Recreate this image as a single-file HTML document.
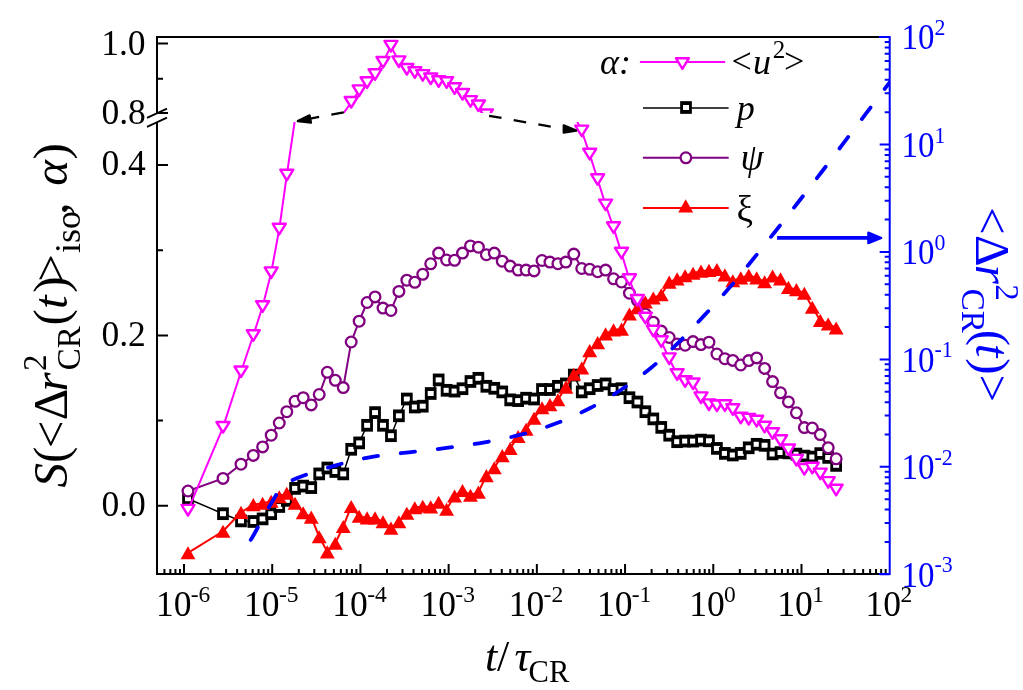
<!DOCTYPE html><html><head><meta charset="utf-8"><style>html,body{margin:0;padding:0;background:#fff;overflow:hidden}svg{display:block;will-change:transform}text{font-family:"Liberation Serif",serif}</style></head><body>
<svg width="1023" height="690" viewBox="0 0 1023 690">
<rect width="1023" height="690" fill="#fff"/>
<defs><clipPath id="cl"><rect x="157" y="122" width="732.7" height="452"/></clipPath>
<clipPath id="cu"><rect x="157" y="37" width="732.7" height="76"/></clipPath></defs>
<path d="M157,36 V113 M157,122 V575 M156,574 H879 M156,37 H879 M157,43.5 H168 M157,113 H168 M157,165 H168 M157,335.5 H168 M157,505.7 H168 M157,78.8 H163 M157,250.25 H163 M157,420.5 H163 M164.43,574 V569 M170.34,574 V569 M175.45,574 V569 M179.96,574 V569 M184,574 V564 M210.55,574 V569 M226.09,574 V569 M237.11,574 V569 M245.66,574 V569 M252.64,574 V569 M258.55,574 V569 M263.66,574 V569 M268.18,574 V569 M272.21,574 V564 M298.77,574 V569 M314.3,574 V569 M325.32,574 V569 M333.87,574 V569 M340.86,574 V569 M346.76,574 V569 M351.88,574 V569 M356.39,574 V569 M360.43,574 V564 M386.98,574 V569 M402.51,574 V569 M413.53,574 V569 M422.08,574 V569 M429.07,574 V569 M434.97,574 V569 M440.09,574 V569 M444.6,574 V569 M448.64,574 V564 M475.19,574 V569 M490.73,574 V569 M501.75,574 V569 M510.3,574 V569 M517.28,574 V569 M523.19,574 V569 M528.3,574 V569 M532.81,574 V569 M536.85,574 V564 M563.4,574 V569 M578.94,574 V569 M589.96,574 V569 M598.51,574 V569 M605.49,574 V569 M611.4,574 V569 M616.51,574 V569 M621.03,574 V569 M625.06,574 V564 M651.62,574 V569 M667.15,574 V569 M678.17,574 V569 M686.72,574 V569 M693.71,574 V569 M699.61,574 V569 M704.73,574 V569 M709.24,574 V569 M713.28,574 V564 M739.83,574 V569 M755.36,574 V569 M766.38,574 V569 M774.93,574 V569 M781.92,574 V569 M787.82,574 V569 M792.94,574 V569 M797.45,574 V569 M801.49,574 V564 M828.04,574 V569 M843.58,574 V569 M854.6,574 V569 M863.15,574 V569 M870.13,574 V569 M876.04,574 V569 M881.15,574 V569 M885.66,574 V569" stroke="#000" stroke-width="2" fill="none"/>
<path d="M147,117.9 L167,108.6 M147,126.9 L167,117.6" stroke="#000" stroke-width="1.8" fill="none"/>
<path d="M889.7,36 V575 M879,37 H890.7 M879,574 H890.7 M889.7,574.3 H879.7 M889.7,541.95 H884.7 M889.7,523.03 H884.7 M889.7,509.61 H884.7 M889.7,499.2 H884.7 M889.7,490.69 H884.7 M889.7,483.49 H884.7 M889.7,477.26 H884.7 M889.7,471.77 H884.7 M889.7,466.85 H879.7 M889.7,434.5 H884.7 M889.7,415.58 H884.7 M889.7,402.16 H884.7 M889.7,391.75 H884.7 M889.7,383.24 H884.7 M889.7,376.04 H884.7 M889.7,369.81 H884.7 M889.7,364.32 H884.7 M889.7,359.4 H879.7 M889.7,327.05 H884.7 M889.7,308.13 H884.7 M889.7,294.71 H884.7 M889.7,284.3 H884.7 M889.7,275.79 H884.7 M889.7,268.59 H884.7 M889.7,262.36 H884.7 M889.7,256.87 H884.7 M889.7,251.95 H879.7 M889.7,219.6 H884.7 M889.7,200.68 H884.7 M889.7,187.26 H884.7 M889.7,176.85 H884.7 M889.7,168.34 H884.7 M889.7,161.14 H884.7 M889.7,154.91 H884.7 M889.7,149.42 H884.7 M889.7,144.5 H879.7 M889.7,112.15 H884.7 M889.7,93.23 H884.7 M889.7,79.81 H884.7 M889.7,69.4 H884.7 M889.7,60.89 H884.7 M889.7,53.69 H884.7 M889.7,47.46 H884.7 M889.7,41.97 H884.7" stroke="#00f" stroke-width="2" fill="none"/>
<text x="101.21" y="54.8" font-size="35.5" fill="#000">1.0</text>
<text x="101.48" y="123.6" font-size="35.5" fill="#000">0.8</text>
<text x="101.48" y="174.5" font-size="35.5" fill="#000">0.4</text>
<text x="101.48" y="346.4" font-size="35.5" fill="#000">0.2</text>
<text x="101.48" y="516.4" font-size="35.5" fill="#000">0.0</text>
<text x="155.88" y="615.8" font-size="35.5" fill="#000">10</text>
<text x="190.72" y="601.9" font-size="23.5" fill="#000">-6</text>
<text x="244.09" y="615.8" font-size="35.5" fill="#000">10</text>
<text x="278.94" y="601.9" font-size="23.5" fill="#000">-5</text>
<text x="332.31" y="615.8" font-size="35.5" fill="#000">10</text>
<text x="367.15" y="601.9" font-size="23.5" fill="#000">-4</text>
<text x="420.52" y="615.8" font-size="35.5" fill="#000">10</text>
<text x="455.36" y="601.9" font-size="23.5" fill="#000">-3</text>
<text x="508.73" y="615.8" font-size="35.5" fill="#000">10</text>
<text x="543.57" y="601.9" font-size="23.5" fill="#000">-2</text>
<text x="596.94" y="615.8" font-size="35.5" fill="#000">10</text>
<text x="631.78" y="601.9" font-size="23.5" fill="#000">-1</text>
<text x="689.15" y="615.8" font-size="35.5" fill="#000">10</text>
<text x="723.99" y="601.9" font-size="23.5" fill="#000">0</text>
<text x="777.37" y="615.8" font-size="35.5" fill="#000">10</text>
<text x="812.21" y="601.9" font-size="23.5" fill="#000">1</text>
<text x="865.58" y="615.8" font-size="35.5" fill="#000">10</text>
<text x="900.42" y="601.9" font-size="23.5" fill="#000">2</text>
<g transform="translate(904.5,0) scale(0.93,1)">
<text x="-3.19" y="586.7" font-size="35.5" fill="#00f">10</text>
<text x="32.35" y="572.4" font-size="23.5" fill="#00f">-3</text>
</g>
<g transform="translate(904.5,0) scale(0.93,1)">
<text x="-3.19" y="479.25" font-size="35.5" fill="#00f">10</text>
<text x="32.35" y="464.95" font-size="23.5" fill="#00f">-2</text>
</g>
<g transform="translate(904.5,0) scale(0.93,1)">
<text x="-3.19" y="371.8" font-size="35.5" fill="#00f">10</text>
<text x="32.35" y="357.5" font-size="23.5" fill="#00f">-1</text>
</g>
<g transform="translate(904.5,0) scale(0.93,1)">
<text x="-3.19" y="264.35" font-size="35.5" fill="#00f">10</text>
<text x="32.35" y="250.05" font-size="23.5" fill="#00f">0</text>
</g>
<g transform="translate(904.5,0) scale(0.93,1)">
<text x="-3.19" y="156.9" font-size="35.5" fill="#00f">10</text>
<text x="32.35" y="142.6" font-size="23.5" fill="#00f">1</text>
</g>
<g transform="translate(904.5,0) scale(0.93,1)">
<text x="-3.19" y="49.45" font-size="35.5" fill="#00f">10</text>
<text x="32.35" y="35.15" font-size="23.5" fill="#00f">2</text>
</g>
<g clip-path="url(#cl)">
<path d="M188,498.7 L223,513.7 L241,520.9 L253.3,521.5 L262.6,518.9 L271.2,513.7 L279.25,506.5 L286.8,500.4 L295.05,488.4 L303.2,486.1 L311.25,487.6 L319.2,473.9 L327.35,468 L335.3,471.5 L343.25,473.9 L351.2,449.3 L359.15,442.9 L367.1,425.3 L375.05,412.6 L383,425.3 L390.95,435.7 L398.9,415.8 L406.85,399 L414.8,407 L422.75,406.2 L430.7,393.5 L438.65,379.9 L446.6,390.3 L454.55,391.1 L462.5,388.7 L470.45,381.5 L478.4,378.3 L486.35,386.3 L494.3,388.3 L502.25,391.9 L510.2,399.8 L518.15,400.6 L526.1,398.2 L534.05,399 L542,389.5 L549.95,389.5 L557.9,386.3 L565.85,383.9 L573.8,375.1 L581.75,391.9 L589.7,388.7 L597.65,385.5 L605.6,383.9 L613.55,389.5 L621.5,388.7 L629.45,397.7 L637.4,402 L645.35,411.7 L653.3,418.9 L661.25,427.4 L669.2,435.2 L677.15,441.7 L685.1,441.1 L693.05,441.1 L701,440.1 L708.95,440.8 L716.9,448.4 L724.85,453.4 L732.8,455 L740.75,453.4 L748.7,447.8 L756.65,444.3 L764.6,445.3 L772.55,454 L780.5,452.5 L788.45,453 L796.4,454.2 L804.35,456 L812.3,457.1 L820.25,453.5 L828.2,457.5 L836.15,465.3" stroke="#000" stroke-width="1.5" fill="none"/>
<g><path d="M182.15,492.35h11.7v12.7h-11.7z" fill="#000"/><path d="M185,496.2h6v5h-6z" fill="#fff"/><path d="M217.15,507.35h11.7v12.7h-11.7z" fill="#000"/><path d="M220,511.2h6v5h-6z" fill="#fff"/><path d="M235.15,514.55h11.7v12.7h-11.7z" fill="#000"/><path d="M238,518.4h6v5h-6z" fill="#fff"/><path d="M247.45,515.15h11.7v12.7h-11.7z" fill="#000"/><path d="M250.3,519h6v5h-6z" fill="#fff"/><path d="M256.75,512.55h11.7v12.7h-11.7z" fill="#000"/><path d="M259.6,516.4h6v5h-6z" fill="#fff"/><path d="M265.35,507.35h11.7v12.7h-11.7z" fill="#000"/><path d="M268.2,511.2h6v5h-6z" fill="#fff"/><path d="M273.4,500.15h11.7v12.7h-11.7z" fill="#000"/><path d="M276.25,504h6v5h-6z" fill="#fff"/><path d="M280.95,494.05h11.7v12.7h-11.7z" fill="#000"/><path d="M283.8,497.9h6v5h-6z" fill="#fff"/><path d="M289.2,482.05h11.7v12.7h-11.7z" fill="#000"/><path d="M292.05,485.9h6v5h-6z" fill="#fff"/><path d="M297.35,479.75h11.7v12.7h-11.7z" fill="#000"/><path d="M300.2,483.6h6v5h-6z" fill="#fff"/><path d="M305.4,481.25h11.7v12.7h-11.7z" fill="#000"/><path d="M308.25,485.1h6v5h-6z" fill="#fff"/><path d="M313.35,467.55h11.7v12.7h-11.7z" fill="#000"/><path d="M316.2,471.4h6v5h-6z" fill="#fff"/><path d="M321.5,461.65h11.7v12.7h-11.7z" fill="#000"/><path d="M324.35,465.5h6v5h-6z" fill="#fff"/><path d="M329.45,465.15h11.7v12.7h-11.7z" fill="#000"/><path d="M332.3,469h6v5h-6z" fill="#fff"/><path d="M337.4,467.55h11.7v12.7h-11.7z" fill="#000"/><path d="M340.25,471.4h6v5h-6z" fill="#fff"/><path d="M345.35,442.95h11.7v12.7h-11.7z" fill="#000"/><path d="M348.2,446.8h6v5h-6z" fill="#fff"/><path d="M353.3,436.55h11.7v12.7h-11.7z" fill="#000"/><path d="M356.15,440.4h6v5h-6z" fill="#fff"/><path d="M361.25,418.95h11.7v12.7h-11.7z" fill="#000"/><path d="M364.1,422.8h6v5h-6z" fill="#fff"/><path d="M369.2,406.25h11.7v12.7h-11.7z" fill="#000"/><path d="M372.05,410.1h6v5h-6z" fill="#fff"/><path d="M377.15,418.95h11.7v12.7h-11.7z" fill="#000"/><path d="M380,422.8h6v5h-6z" fill="#fff"/><path d="M385.1,429.35h11.7v12.7h-11.7z" fill="#000"/><path d="M387.95,433.2h6v5h-6z" fill="#fff"/><path d="M393.05,409.45h11.7v12.7h-11.7z" fill="#000"/><path d="M395.9,413.3h6v5h-6z" fill="#fff"/><path d="M401,392.65h11.7v12.7h-11.7z" fill="#000"/><path d="M403.85,396.5h6v5h-6z" fill="#fff"/><path d="M408.95,400.65h11.7v12.7h-11.7z" fill="#000"/><path d="M411.8,404.5h6v5h-6z" fill="#fff"/><path d="M416.9,399.85h11.7v12.7h-11.7z" fill="#000"/><path d="M419.75,403.7h6v5h-6z" fill="#fff"/><path d="M424.85,387.15h11.7v12.7h-11.7z" fill="#000"/><path d="M427.7,391h6v5h-6z" fill="#fff"/><path d="M432.8,373.55h11.7v12.7h-11.7z" fill="#000"/><path d="M435.65,377.4h6v5h-6z" fill="#fff"/><path d="M440.75,383.95h11.7v12.7h-11.7z" fill="#000"/><path d="M443.6,387.8h6v5h-6z" fill="#fff"/><path d="M448.7,384.75h11.7v12.7h-11.7z" fill="#000"/><path d="M451.55,388.6h6v5h-6z" fill="#fff"/><path d="M456.65,382.35h11.7v12.7h-11.7z" fill="#000"/><path d="M459.5,386.2h6v5h-6z" fill="#fff"/><path d="M464.6,375.15h11.7v12.7h-11.7z" fill="#000"/><path d="M467.45,379h6v5h-6z" fill="#fff"/><path d="M472.55,371.95h11.7v12.7h-11.7z" fill="#000"/><path d="M475.4,375.8h6v5h-6z" fill="#fff"/><path d="M480.5,379.95h11.7v12.7h-11.7z" fill="#000"/><path d="M483.35,383.8h6v5h-6z" fill="#fff"/><path d="M488.45,381.95h11.7v12.7h-11.7z" fill="#000"/><path d="M491.3,385.8h6v5h-6z" fill="#fff"/><path d="M496.4,385.55h11.7v12.7h-11.7z" fill="#000"/><path d="M499.25,389.4h6v5h-6z" fill="#fff"/><path d="M504.35,393.45h11.7v12.7h-11.7z" fill="#000"/><path d="M507.2,397.3h6v5h-6z" fill="#fff"/><path d="M512.3,394.25h11.7v12.7h-11.7z" fill="#000"/><path d="M515.15,398.1h6v5h-6z" fill="#fff"/><path d="M520.25,391.85h11.7v12.7h-11.7z" fill="#000"/><path d="M523.1,395.7h6v5h-6z" fill="#fff"/><path d="M528.2,392.65h11.7v12.7h-11.7z" fill="#000"/><path d="M531.05,396.5h6v5h-6z" fill="#fff"/><path d="M536.15,383.15h11.7v12.7h-11.7z" fill="#000"/><path d="M539,387h6v5h-6z" fill="#fff"/><path d="M544.1,383.15h11.7v12.7h-11.7z" fill="#000"/><path d="M546.95,387h6v5h-6z" fill="#fff"/><path d="M552.05,379.95h11.7v12.7h-11.7z" fill="#000"/><path d="M554.9,383.8h6v5h-6z" fill="#fff"/><path d="M560,377.55h11.7v12.7h-11.7z" fill="#000"/><path d="M562.85,381.4h6v5h-6z" fill="#fff"/><path d="M567.95,368.75h11.7v12.7h-11.7z" fill="#000"/><path d="M570.8,372.6h6v5h-6z" fill="#fff"/><path d="M575.9,385.55h11.7v12.7h-11.7z" fill="#000"/><path d="M578.75,389.4h6v5h-6z" fill="#fff"/><path d="M583.85,382.35h11.7v12.7h-11.7z" fill="#000"/><path d="M586.7,386.2h6v5h-6z" fill="#fff"/><path d="M591.8,379.15h11.7v12.7h-11.7z" fill="#000"/><path d="M594.65,383h6v5h-6z" fill="#fff"/><path d="M599.75,377.55h11.7v12.7h-11.7z" fill="#000"/><path d="M602.6,381.4h6v5h-6z" fill="#fff"/><path d="M607.7,383.15h11.7v12.7h-11.7z" fill="#000"/><path d="M610.55,387h6v5h-6z" fill="#fff"/><path d="M615.65,382.35h11.7v12.7h-11.7z" fill="#000"/><path d="M618.5,386.2h6v5h-6z" fill="#fff"/><path d="M623.6,391.35h11.7v12.7h-11.7z" fill="#000"/><path d="M626.45,395.2h6v5h-6z" fill="#fff"/><path d="M631.55,395.65h11.7v12.7h-11.7z" fill="#000"/><path d="M634.4,399.5h6v5h-6z" fill="#fff"/><path d="M639.5,405.35h11.7v12.7h-11.7z" fill="#000"/><path d="M642.35,409.2h6v5h-6z" fill="#fff"/><path d="M647.45,412.55h11.7v12.7h-11.7z" fill="#000"/><path d="M650.3,416.4h6v5h-6z" fill="#fff"/><path d="M655.4,421.05h11.7v12.7h-11.7z" fill="#000"/><path d="M658.25,424.9h6v5h-6z" fill="#fff"/><path d="M663.35,428.85h11.7v12.7h-11.7z" fill="#000"/><path d="M666.2,432.7h6v5h-6z" fill="#fff"/><path d="M671.3,435.35h11.7v12.7h-11.7z" fill="#000"/><path d="M674.15,439.2h6v5h-6z" fill="#fff"/><path d="M679.25,434.75h11.7v12.7h-11.7z" fill="#000"/><path d="M682.1,438.6h6v5h-6z" fill="#fff"/><path d="M687.2,434.75h11.7v12.7h-11.7z" fill="#000"/><path d="M690.05,438.6h6v5h-6z" fill="#fff"/><path d="M695.15,433.75h11.7v12.7h-11.7z" fill="#000"/><path d="M698,437.6h6v5h-6z" fill="#fff"/><path d="M703.1,434.45h11.7v12.7h-11.7z" fill="#000"/><path d="M705.95,438.3h6v5h-6z" fill="#fff"/><path d="M711.05,442.05h11.7v12.7h-11.7z" fill="#000"/><path d="M713.9,445.9h6v5h-6z" fill="#fff"/><path d="M719,447.05h11.7v12.7h-11.7z" fill="#000"/><path d="M721.85,450.9h6v5h-6z" fill="#fff"/><path d="M726.95,448.65h11.7v12.7h-11.7z" fill="#000"/><path d="M729.8,452.5h6v5h-6z" fill="#fff"/><path d="M734.9,447.05h11.7v12.7h-11.7z" fill="#000"/><path d="M737.75,450.9h6v5h-6z" fill="#fff"/><path d="M742.85,441.45h11.7v12.7h-11.7z" fill="#000"/><path d="M745.7,445.3h6v5h-6z" fill="#fff"/><path d="M750.8,437.95h11.7v12.7h-11.7z" fill="#000"/><path d="M753.65,441.8h6v5h-6z" fill="#fff"/><path d="M758.75,438.95h11.7v12.7h-11.7z" fill="#000"/><path d="M761.6,442.8h6v5h-6z" fill="#fff"/><path d="M766.7,447.65h11.7v12.7h-11.7z" fill="#000"/><path d="M769.55,451.5h6v5h-6z" fill="#fff"/><path d="M774.65,446.15h11.7v12.7h-11.7z" fill="#000"/><path d="M777.5,450h6v5h-6z" fill="#fff"/><path d="M782.6,446.65h11.7v12.7h-11.7z" fill="#000"/><path d="M785.45,450.5h6v5h-6z" fill="#fff"/><path d="M790.55,447.85h11.7v12.7h-11.7z" fill="#000"/><path d="M793.4,451.7h6v5h-6z" fill="#fff"/><path d="M798.5,449.65h11.7v12.7h-11.7z" fill="#000"/><path d="M801.35,453.5h6v5h-6z" fill="#fff"/><path d="M806.45,450.75h11.7v12.7h-11.7z" fill="#000"/><path d="M809.3,454.6h6v5h-6z" fill="#fff"/><path d="M814.4,447.15h11.7v12.7h-11.7z" fill="#000"/><path d="M817.25,451h6v5h-6z" fill="#fff"/><path d="M822.35,451.15h11.7v12.7h-11.7z" fill="#000"/><path d="M825.2,455h6v5h-6z" fill="#fff"/><path d="M830.3,458.95h11.7v12.7h-11.7z" fill="#000"/><path d="M833.15,462.8h6v5h-6z" fill="#fff"/></g>
<path d="M188,491 L223,478.4 L241,464.2 L253.3,455.4 L262.6,446.9 L271.2,435.2 L279.25,423 L286.8,411.7 L295.05,401.3 L303.2,397.7 L311.25,404.9 L319.2,394.5 L327.35,372.3 L335.3,380.3 L343.25,387.6 L351.2,342 L359.15,321.2 L367.1,302.5 L375.05,296.9 L383,308.1 L390.95,310.5 L398.9,291.4 L406.85,280.2 L414.8,282.3 L422.75,274.3 L430.7,263.8 L438.65,253.1 L446.6,260 L454.55,260.3 L462.5,253.1 L470.45,245.9 L478.4,247.2 L486.35,254.7 L494.3,253.1 L502.25,261.2 L510.2,266.1 L518.15,270.1 L526.1,270.1 L534.05,270.9 L542,260.5 L549.95,262.1 L557.9,263.7 L565.85,262.1 L573.8,254.1 L581.75,268.5 L589.7,269.3 L597.65,271.7 L605.6,270.1 L613.55,278.8 L621.5,282 L629.45,293.2 L637.4,300.3 L645.35,314 L653.3,322.2 L661.25,331.1 L669.2,337.5 L677.15,344 L685.1,345.2 L693.05,341.6 L701,344.6 L708.95,342.2 L716.9,354 L724.85,358.7 L732.8,360.4 L740.75,365 L748.7,360.6 L756.65,357.9 L764.6,368.4 L772.55,381.6 L780.5,392.8 L788.45,401.9 L796.4,412.8 L804.35,427.6 L812.3,428 L820.25,434.6 L828.2,447.7 L836.15,458.8" stroke="#800080" stroke-width="2" fill="none"/>
<g fill="#fff" stroke="#800080" stroke-width="2.3"><circle cx="188" cy="491" r="5.35"/><circle cx="223" cy="478.4" r="5.35"/><circle cx="241" cy="464.2" r="5.35"/><circle cx="253.3" cy="455.4" r="5.35"/><circle cx="262.6" cy="446.9" r="5.35"/><circle cx="271.2" cy="435.2" r="5.35"/><circle cx="279.25" cy="423" r="5.35"/><circle cx="286.8" cy="411.7" r="5.35"/><circle cx="295.05" cy="401.3" r="5.35"/><circle cx="303.2" cy="397.7" r="5.35"/><circle cx="311.25" cy="404.9" r="5.35"/><circle cx="319.2" cy="394.5" r="5.35"/><circle cx="327.35" cy="372.3" r="5.35"/><circle cx="335.3" cy="380.3" r="5.35"/><circle cx="343.25" cy="387.6" r="5.35"/><circle cx="351.2" cy="342" r="5.35"/><circle cx="359.15" cy="321.2" r="5.35"/><circle cx="367.1" cy="302.5" r="5.35"/><circle cx="375.05" cy="296.9" r="5.35"/><circle cx="383" cy="308.1" r="5.35"/><circle cx="390.95" cy="310.5" r="5.35"/><circle cx="398.9" cy="291.4" r="5.35"/><circle cx="406.85" cy="280.2" r="5.35"/><circle cx="414.8" cy="282.3" r="5.35"/><circle cx="422.75" cy="274.3" r="5.35"/><circle cx="430.7" cy="263.8" r="5.35"/><circle cx="438.65" cy="253.1" r="5.35"/><circle cx="446.6" cy="260" r="5.35"/><circle cx="454.55" cy="260.3" r="5.35"/><circle cx="462.5" cy="253.1" r="5.35"/><circle cx="470.45" cy="245.9" r="5.35"/><circle cx="478.4" cy="247.2" r="5.35"/><circle cx="486.35" cy="254.7" r="5.35"/><circle cx="494.3" cy="253.1" r="5.35"/><circle cx="502.25" cy="261.2" r="5.35"/><circle cx="510.2" cy="266.1" r="5.35"/><circle cx="518.15" cy="270.1" r="5.35"/><circle cx="526.1" cy="270.1" r="5.35"/><circle cx="534.05" cy="270.9" r="5.35"/><circle cx="542" cy="260.5" r="5.35"/><circle cx="549.95" cy="262.1" r="5.35"/><circle cx="557.9" cy="263.7" r="5.35"/><circle cx="565.85" cy="262.1" r="5.35"/><circle cx="573.8" cy="254.1" r="5.35"/><circle cx="581.75" cy="268.5" r="5.35"/><circle cx="589.7" cy="269.3" r="5.35"/><circle cx="597.65" cy="271.7" r="5.35"/><circle cx="605.6" cy="270.1" r="5.35"/><circle cx="613.55" cy="278.8" r="5.35"/><circle cx="621.5" cy="282" r="5.35"/><circle cx="629.45" cy="293.2" r="5.35"/><circle cx="637.4" cy="300.3" r="5.35"/><circle cx="645.35" cy="314" r="5.35"/><circle cx="653.3" cy="322.2" r="5.35"/><circle cx="661.25" cy="331.1" r="5.35"/><circle cx="669.2" cy="337.5" r="5.35"/><circle cx="677.15" cy="344" r="5.35"/><circle cx="685.1" cy="345.2" r="5.35"/><circle cx="693.05" cy="341.6" r="5.35"/><circle cx="701" cy="344.6" r="5.35"/><circle cx="708.95" cy="342.2" r="5.35"/><circle cx="716.9" cy="354" r="5.35"/><circle cx="724.85" cy="358.7" r="5.35"/><circle cx="732.8" cy="360.4" r="5.35"/><circle cx="740.75" cy="365" r="5.35"/><circle cx="748.7" cy="360.6" r="5.35"/><circle cx="756.65" cy="357.9" r="5.35"/><circle cx="764.6" cy="368.4" r="5.35"/><circle cx="772.55" cy="381.6" r="5.35"/><circle cx="780.5" cy="392.8" r="5.35"/><circle cx="788.45" cy="401.9" r="5.35"/><circle cx="796.4" cy="412.8" r="5.35"/><circle cx="804.35" cy="427.6" r="5.35"/><circle cx="812.3" cy="428" r="5.35"/><circle cx="820.25" cy="434.6" r="5.35"/><circle cx="828.2" cy="447.7" r="5.35"/><circle cx="836.15" cy="458.8" r="5.35"/></g>
<path d="M188,552.8 L223,531.3 L241,512.4 L253.3,504.6 L262.6,503.3 L271.2,501.3 L279.25,496.8 L286.8,493.2 L295.05,503.3 L303.2,512.8 L311.25,517.1 L319.2,536.7 L327.35,551.9 L335.3,543.2 L343.25,526.5 L351.2,506.5 L359.15,516.3 L367.1,517.9 L375.05,517.9 L383,521.8 L390.95,528.1 L398.9,521.8 L406.85,513.2 L414.8,507.7 L422.75,506.2 L430.7,506.9 L438.65,502.3 L446.6,509.3 L454.55,496 L462.5,490.5 L470.45,495.2 L478.4,492.1 L486.35,475.6 L494.3,467.7 L502.25,455.6 L510.2,448.4 L518.15,436.5 L526.1,429.3 L534.05,418.2 L542,407.8 L549.95,404.6 L557.9,399.8 L565.85,387.1 L573.8,374.3 L581.75,368 L589.7,350.6 L597.65,342.6 L605.6,333.9 L613.55,329.9 L621.5,329.1 L629.45,314 L637.4,307.6 L645.35,302 L653.3,298 L661.25,294.8 L669.2,282.1 L677.15,278.9 L685.1,275.7 L693.05,273.3 L701,271.1 L708.95,270.4 L716.9,269.5 L724.85,274.9 L732.8,280.8 L740.75,277.9 L748.7,275.2 L756.65,277.9 L764.6,281.8 L772.55,276 L780.5,278.9 L788.45,287.4 L796.4,289.6 L804.35,293.3 L812.3,307.2 L820.25,320.4 L828.2,324 L836.15,328" stroke="#f00" stroke-width="2" fill="none"/>
<g fill="#f00"><path d="M188,546.25 l7.45,13.1 l-14.9,0 z"/><path d="M223,524.75 l7.45,13.1 l-14.9,0 z"/><path d="M241,505.85 l7.45,13.1 l-14.9,0 z"/><path d="M253.3,498.05 l7.45,13.1 l-14.9,0 z"/><path d="M262.6,496.75 l7.45,13.1 l-14.9,0 z"/><path d="M271.2,494.75 l7.45,13.1 l-14.9,0 z"/><path d="M279.25,490.25 l7.45,13.1 l-14.9,0 z"/><path d="M286.8,486.65 l7.45,13.1 l-14.9,0 z"/><path d="M295.05,496.75 l7.45,13.1 l-14.9,0 z"/><path d="M303.2,506.25 l7.45,13.1 l-14.9,0 z"/><path d="M311.25,510.55 l7.45,13.1 l-14.9,0 z"/><path d="M319.2,530.15 l7.45,13.1 l-14.9,0 z"/><path d="M327.35,545.35 l7.45,13.1 l-14.9,0 z"/><path d="M335.3,536.65 l7.45,13.1 l-14.9,0 z"/><path d="M343.25,519.95 l7.45,13.1 l-14.9,0 z"/><path d="M351.2,499.95 l7.45,13.1 l-14.9,0 z"/><path d="M359.15,509.75 l7.45,13.1 l-14.9,0 z"/><path d="M367.1,511.35 l7.45,13.1 l-14.9,0 z"/><path d="M375.05,511.35 l7.45,13.1 l-14.9,0 z"/><path d="M383,515.25 l7.45,13.1 l-14.9,0 z"/><path d="M390.95,521.55 l7.45,13.1 l-14.9,0 z"/><path d="M398.9,515.25 l7.45,13.1 l-14.9,0 z"/><path d="M406.85,506.65 l7.45,13.1 l-14.9,0 z"/><path d="M414.8,501.15 l7.45,13.1 l-14.9,0 z"/><path d="M422.75,499.65 l7.45,13.1 l-14.9,0 z"/><path d="M430.7,500.35 l7.45,13.1 l-14.9,0 z"/><path d="M438.65,495.75 l7.45,13.1 l-14.9,0 z"/><path d="M446.6,502.75 l7.45,13.1 l-14.9,0 z"/><path d="M454.55,489.45 l7.45,13.1 l-14.9,0 z"/><path d="M462.5,483.95 l7.45,13.1 l-14.9,0 z"/><path d="M470.45,488.65 l7.45,13.1 l-14.9,0 z"/><path d="M478.4,485.55 l7.45,13.1 l-14.9,0 z"/><path d="M486.35,469.05 l7.45,13.1 l-14.9,0 z"/><path d="M494.3,461.15 l7.45,13.1 l-14.9,0 z"/><path d="M502.25,449.05 l7.45,13.1 l-14.9,0 z"/><path d="M510.2,441.85 l7.45,13.1 l-14.9,0 z"/><path d="M518.15,429.95 l7.45,13.1 l-14.9,0 z"/><path d="M526.1,422.75 l7.45,13.1 l-14.9,0 z"/><path d="M534.05,411.65 l7.45,13.1 l-14.9,0 z"/><path d="M542,401.25 l7.45,13.1 l-14.9,0 z"/><path d="M549.95,398.05 l7.45,13.1 l-14.9,0 z"/><path d="M557.9,393.25 l7.45,13.1 l-14.9,0 z"/><path d="M565.85,380.55 l7.45,13.1 l-14.9,0 z"/><path d="M573.8,367.75 l7.45,13.1 l-14.9,0 z"/><path d="M581.75,361.45 l7.45,13.1 l-14.9,0 z"/><path d="M589.7,344.05 l7.45,13.1 l-14.9,0 z"/><path d="M597.65,336.05 l7.45,13.1 l-14.9,0 z"/><path d="M605.6,327.35 l7.45,13.1 l-14.9,0 z"/><path d="M613.55,323.35 l7.45,13.1 l-14.9,0 z"/><path d="M621.5,322.55 l7.45,13.1 l-14.9,0 z"/><path d="M629.45,307.45 l7.45,13.1 l-14.9,0 z"/><path d="M637.4,301.05 l7.45,13.1 l-14.9,0 z"/><path d="M645.35,295.45 l7.45,13.1 l-14.9,0 z"/><path d="M653.3,291.45 l7.45,13.1 l-14.9,0 z"/><path d="M661.25,288.25 l7.45,13.1 l-14.9,0 z"/><path d="M669.2,275.55 l7.45,13.1 l-14.9,0 z"/><path d="M677.15,272.35 l7.45,13.1 l-14.9,0 z"/><path d="M685.1,269.15 l7.45,13.1 l-14.9,0 z"/><path d="M693.05,266.75 l7.45,13.1 l-14.9,0 z"/><path d="M701,264.55 l7.45,13.1 l-14.9,0 z"/><path d="M708.95,263.85 l7.45,13.1 l-14.9,0 z"/><path d="M716.9,262.95 l7.45,13.1 l-14.9,0 z"/><path d="M724.85,268.35 l7.45,13.1 l-14.9,0 z"/><path d="M732.8,274.25 l7.45,13.1 l-14.9,0 z"/><path d="M740.75,271.35 l7.45,13.1 l-14.9,0 z"/><path d="M748.7,268.65 l7.45,13.1 l-14.9,0 z"/><path d="M756.65,271.35 l7.45,13.1 l-14.9,0 z"/><path d="M764.6,275.25 l7.45,13.1 l-14.9,0 z"/><path d="M772.55,269.45 l7.45,13.1 l-14.9,0 z"/><path d="M780.5,272.35 l7.45,13.1 l-14.9,0 z"/><path d="M788.45,280.85 l7.45,13.1 l-14.9,0 z"/><path d="M796.4,283.05 l7.45,13.1 l-14.9,0 z"/><path d="M804.35,286.75 l7.45,13.1 l-14.9,0 z"/><path d="M812.3,300.65 l7.45,13.1 l-14.9,0 z"/><path d="M820.25,313.85 l7.45,13.1 l-14.9,0 z"/><path d="M828.2,317.45 l7.45,13.1 l-14.9,0 z"/><path d="M836.15,321.45 l7.45,13.1 l-14.9,0 z"/></g>
<path d="M188,510.2 L223,427.3 L241,371.8 L253.3,335.5 L262.6,306.5 L271.2,272.7 L279.25,229.1 L286.8,175 L295.05,119 M573.8,114.6 L581.75,130.9 L589.7,154.1 L597.65,179.5 L605.6,204.9 L613.55,227.6 L621.5,253.1 L629.45,279.6 L637.4,300.3 L645.35,318 L653.3,331 L661.25,341.6 L669.2,358.7 L677.15,374.5 L685.1,381.5 L693.05,383.8 L701,397.7 L708.95,404.7 L716.9,405.8 L724.85,405.6 L732.8,409.5 L740.75,418 L748.7,419.2 L756.65,421.1 L764.6,427 L772.55,433.5 L780.5,440.6 L788.45,449.8 L796.4,460.2 L804.35,469.3 L812.3,468 L820.25,473.9 L828.2,482.4 L836.15,490" stroke="#f0f" stroke-width="2" fill="none"/>
<g fill="#fff" stroke="#f0f" stroke-width="2.4" stroke-linejoin="round"><path d="M181.5,504.9 l13,0 l-6.5,10.6 z"/><path d="M216.5,422 l13,0 l-6.5,10.6 z"/><path d="M234.5,366.5 l13,0 l-6.5,10.6 z"/><path d="M246.8,330.2 l13,0 l-6.5,10.6 z"/><path d="M256.1,301.2 l13,0 l-6.5,10.6 z"/><path d="M264.7,267.4 l13,0 l-6.5,10.6 z"/><path d="M272.75,223.8 l13,0 l-6.5,10.6 z"/><path d="M280.3,169.7 l13,0 l-6.5,10.6 z"/><path d="M575.25,125.6 l13,0 l-6.5,10.6 z"/><path d="M583.2,148.8 l13,0 l-6.5,10.6 z"/><path d="M591.15,174.2 l13,0 l-6.5,10.6 z"/><path d="M599.1,199.6 l13,0 l-6.5,10.6 z"/><path d="M607.05,222.3 l13,0 l-6.5,10.6 z"/><path d="M615,247.8 l13,0 l-6.5,10.6 z"/><path d="M622.95,274.3 l13,0 l-6.5,10.6 z"/><path d="M630.9,295 l13,0 l-6.5,10.6 z"/><path d="M638.85,312.7 l13,0 l-6.5,10.6 z"/><path d="M646.8,325.7 l13,0 l-6.5,10.6 z"/><path d="M654.75,336.3 l13,0 l-6.5,10.6 z"/><path d="M662.7,353.4 l13,0 l-6.5,10.6 z"/><path d="M670.65,369.2 l13,0 l-6.5,10.6 z"/><path d="M678.6,376.2 l13,0 l-6.5,10.6 z"/><path d="M686.55,378.5 l13,0 l-6.5,10.6 z"/><path d="M694.5,392.4 l13,0 l-6.5,10.6 z"/><path d="M702.45,399.4 l13,0 l-6.5,10.6 z"/><path d="M710.4,400.5 l13,0 l-6.5,10.6 z"/><path d="M718.35,400.3 l13,0 l-6.5,10.6 z"/><path d="M726.3,404.2 l13,0 l-6.5,10.6 z"/><path d="M734.25,412.7 l13,0 l-6.5,10.6 z"/><path d="M742.2,413.9 l13,0 l-6.5,10.6 z"/><path d="M750.15,415.8 l13,0 l-6.5,10.6 z"/><path d="M758.1,421.7 l13,0 l-6.5,10.6 z"/><path d="M766.05,428.2 l13,0 l-6.5,10.6 z"/><path d="M774,435.3 l13,0 l-6.5,10.6 z"/><path d="M781.95,444.5 l13,0 l-6.5,10.6 z"/><path d="M789.9,454.9 l13,0 l-6.5,10.6 z"/><path d="M797.85,464 l13,0 l-6.5,10.6 z"/><path d="M805.8,462.7 l13,0 l-6.5,10.6 z"/><path d="M813.75,468.6 l13,0 l-6.5,10.6 z"/><path d="M821.7,477.1 l13,0 l-6.5,10.6 z"/><path d="M829.65,484.7 l13,0 l-6.5,10.6 z"/></g>
</g>
<g clip-path="url(#cu)">
<path d="M343.25,113.6 L351.2,102.3 L359.15,90.7 L367.1,82.6 L375.05,74.5 L383,62.3 L390.95,46.2 L398.9,61.7 L406.85,69.3 L414.8,72.5 L422.75,75.4 L430.7,78.8 L438.65,81.5 L446.6,82.5 L454.55,88.5 L462.5,94.3 L470.45,101.4 L478.4,105.8 L486.35,114.8 L494.3,125" stroke="#f0f" stroke-width="2" fill="none"/>
<g fill="#fff" stroke="#f0f" stroke-width="2.4" stroke-linejoin="round"><path d="M344.7,97 l13,0 l-6.5,10.6 z"/><path d="M352.65,85.4 l13,0 l-6.5,10.6 z"/><path d="M360.6,77.3 l13,0 l-6.5,10.6 z"/><path d="M368.55,69.2 l13,0 l-6.5,10.6 z"/><path d="M376.5,57 l13,0 l-6.5,10.6 z"/><path d="M384.45,40.9 l13,0 l-6.5,10.6 z"/><path d="M392.4,56.4 l13,0 l-6.5,10.6 z"/><path d="M400.35,64 l13,0 l-6.5,10.6 z"/><path d="M408.3,67.2 l13,0 l-6.5,10.6 z"/><path d="M416.25,70.1 l13,0 l-6.5,10.6 z"/><path d="M424.2,73.5 l13,0 l-6.5,10.6 z"/><path d="M432.15,76.2 l13,0 l-6.5,10.6 z"/><path d="M440.1,77.2 l13,0 l-6.5,10.6 z"/><path d="M448.05,83.2 l13,0 l-6.5,10.6 z"/><path d="M456,89 l13,0 l-6.5,10.6 z"/><path d="M463.95,96.1 l13,0 l-6.5,10.6 z"/><path d="M471.9,100.5 l13,0 l-6.5,10.6 z"/><path d="M479.85,109.5 l13,0 l-6.5,10.6 z"/></g>
</g>
<g clip-path="url(#cb)"><path d="M250.7,539.9 C251.29,538.91 250.68,540.32 254.25,533.95 C257.82,527.58 267.36,509.69 272.15,501.7 C276.94,493.71 278.61,490.02 283,486 C287.39,481.98 289.83,481.01 298.5,477.6 C307.17,474.19 322.73,469 335,465.55 C347.27,462.1 359.78,459.11 372.1,456.9 C384.42,454.69 396.52,453.79 408.9,452.3 C421.28,450.81 434.02,449.57 446.4,447.95 C458.78,446.32 470.98,444.72 483.2,442.55 C495.42,440.38 507.74,438.07 519.7,434.95 C531.66,431.82 543.28,428.24 554.95,423.8 C566.62,419.36 578.73,413.98 589.75,408.3 C600.77,402.62 610.82,396.51 621.05,389.75 C631.28,382.99 641.68,375.52 651.15,367.75 C660.62,359.98 669.1,351.7 677.85,343.1 C686.6,334.5 695.07,325.37 703.65,316.15 C712.23,306.93 721.16,297.23 729.35,287.8 C737.54,278.37 745.12,268.98 752.8,259.55 C760.48,250.12 767.86,240.79 775.45,231.2 C783.04,221.61 790.72,211.78 798.35,202 C805.98,192.22 813.66,182.39 821.25,172.5 C828.84,162.61 836.39,152.54 843.9,142.65 C851.41,132.76 858.12,123.93 866.3,113.15 C874.48,102.38 888.55,83.86 893,78" stroke="#00f" stroke-width="3.8" stroke-linecap="round" stroke-dasharray="14.4 22.85" stroke-dashoffset="0.12" fill="none"/></g>
<defs><clipPath id="cb"><rect x="157" y="37" width="732.7" height="537"/></clipPath></defs>
<path d="M343.7,112.3 L310,118.6 M489.1,115.8 L563,128.8" stroke="#000" stroke-width="2.3" stroke-dasharray="12.6 12.4" fill="none"/>
<path d="M297.8,121.1 L309.6,115.3 L311,122.7 Z M576.2,130.6 L563.7,125.3 L563.7,132.7 Z" fill="#000" stroke="#000" stroke-width="2.2" stroke-linejoin="round"/>
<path d="M777.1,237.9 H870" stroke="#00f" stroke-width="3.8" fill="none"/>
<path d="M881.3,237.9 L868.3,232.6 L868.3,243.2 Z" fill="#00f" stroke="#00f" stroke-width="2.2" stroke-linejoin="round"/>
<path d="M639.9,62 H725.1" stroke="#f0f" stroke-width="2"/>
<g fill="#fff" stroke="#f0f" stroke-width="2.4" stroke-linejoin="round"><path d="M675.9,58.2 l13,0 l-6.5,10.6 z"/></g>
<path d="M643,107.9 H728.6" stroke="#000" stroke-width="1.5"/>
<g><path d="M680.15,101.15h11.7v12.7h-11.7z" fill="#000"/><path d="M683,105h6v5h-6z" fill="#fff"/></g>
<path d="M642.9,157.8 H728.7" stroke="#800080" stroke-width="2"/>
<g fill="#fff" stroke="#800080" stroke-width="2.3"><circle cx="685.9" cy="157.8" r="5.35"/></g>
<path d="M642.9,208 H728.7" stroke="#f00" stroke-width="2"/>
<g fill="#f00"><path d="M685.7,199.3 l7.45,13.1 l-14.9,0 z"/></g>
<text x="600.12" y="74.1" font-size="36" font-style="italic" fill="#000">α:</text>
<text x="731.6" y="73.4" font-size="36" fill="#000">&lt;</text>
<text x="753.1" y="73.7" font-size="36" font-style="italic" fill="#000">u</text>
<text x="772.8" y="58.3" font-size="25" fill="#000">2</text>
<text x="783.9" y="73.4" font-size="36" fill="#000">&gt;</text>
<text x="736.66" y="119.5" font-size="36" font-style="italic" fill="#000">p</text>
<text x="740.58" y="170.2" font-size="37" font-style="italic" fill="#000">ψ</text>
<text x="736.42" y="221.5" font-size="37" fill="#000">ξ</text>
<text x="484.94" y="670.7" font-size="44" font-style="italic" fill="#000">t</text>
<text x="497" y="670.7" font-size="44" fill="#000">/</text>
<text x="514.52" y="670.7" font-size="44" font-style="italic" fill="#000">τ</text>
<text x="528.58" y="682.1" font-size="30.5" fill="#000">CR</text>
<g transform="translate(66.5,487.5) rotate(-90)">
<text x="0.01" y="0" font-size="49" font-style="italic" fill="#000">S</text>
<text x="24.64" y="0" font-size="49" fill="#000">(</text>
<text x="39.35" y="0" font-size="49" fill="#000">&lt;</text>
<text x="67.24" y="0" font-size="49" fill="#000">Δ</text>
<text x="95.94" y="0" font-size="49" font-style="italic" fill="#000">r</text>
<text x="116.48" y="-21" font-size="33" fill="#000">2</text>
<text x="117.18" y="13.2" font-size="33" fill="#000">CR</text>
<text x="162.04" y="0" font-size="49" fill="#000">(</text>
<text x="178.54" y="0" font-size="49" font-style="italic" fill="#000">t</text>
<text x="194.83" y="0" font-size="49" fill="#000">)</text>
<text x="205.75" y="0" font-size="49" fill="#000">&gt;</text>
<text x="234.58" y="13.2" font-size="36" fill="#000">iso</text>
<text x="272.84" y="0" font-size="49" fill="#000">,</text>
<text x="301.73" y="0" font-size="49" font-style="italic" fill="#000">α</text>
<text x="328.03" y="0" font-size="49" fill="#000">)</text>
</g>
<g transform="translate(976.4,207) rotate(90)" fill="#00f">
<text x="-0.05" y="0" font-size="49" fill="#00f">&lt;</text>
<text x="28.04" y="0" font-size="49" fill="#00f">Δ</text>
<text x="57.74" y="0" font-size="49" font-style="italic" fill="#00f">r</text>
<text x="77.18" y="-20" font-size="33" fill="#00f">2</text>
<text x="81.68" y="14.3" font-size="33" fill="#00f">CR</text>
<text x="122.74" y="0" font-size="49" fill="#00f">(</text>
<text x="136.74" y="0" font-size="49" font-style="italic" fill="#00f">t</text>
<text x="151.13" y="0" font-size="49" fill="#00f">)</text>
<text x="167.55" y="0" font-size="49" fill="#00f">&gt;</text>
</g>
</svg></body></html>
